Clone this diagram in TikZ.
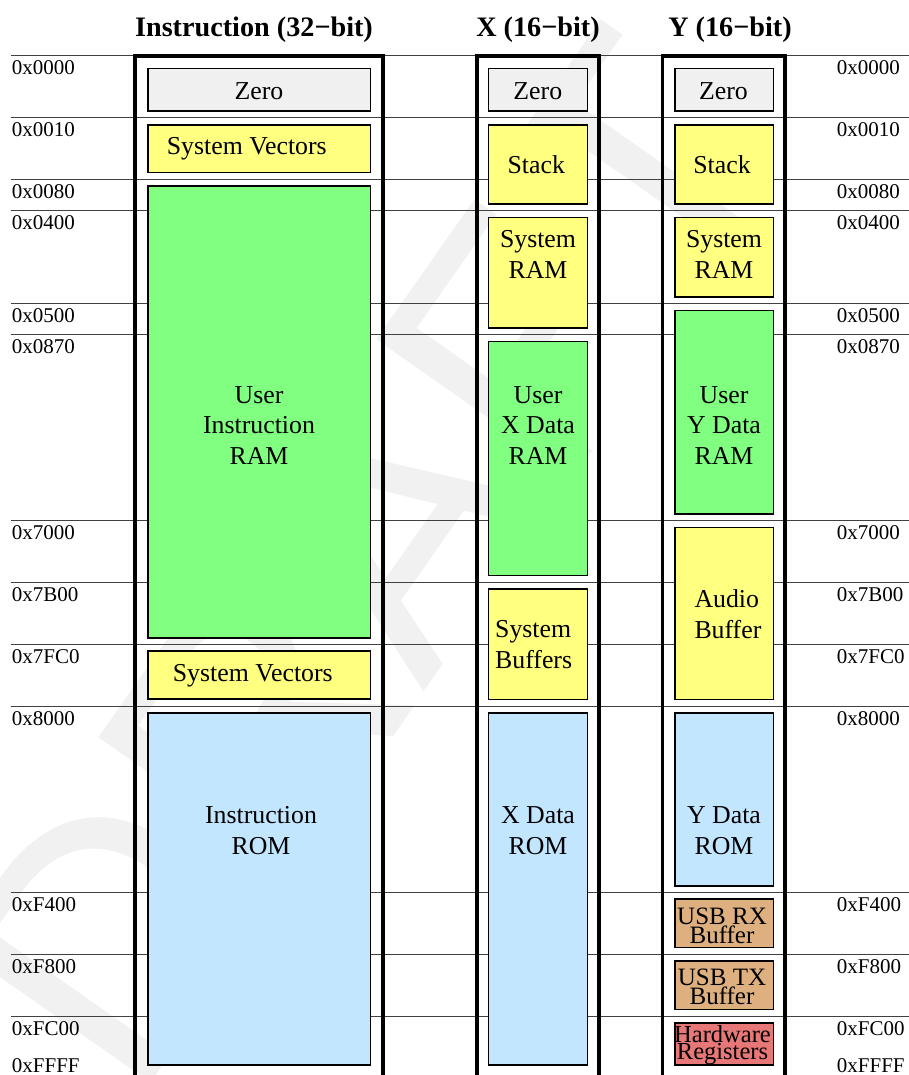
\documentclass[tikz,border=0pt]{standalone}
\usepackage{fontspec}
\setmainfont{Liberation Serif}
\newfontfamily\wmfont{Liberation Sans}
\definecolor{zerofill}{RGB}{240,240,240}
\definecolor{sysfill}{RGB}{255,255,128}
\definecolor{userfill}{RGB}{128,255,128}
\definecolor{romfill}{RGB}{195,230,255}
\definecolor{usbfill}{RGB}{222,176,128}
\definecolor{hwfill}{RGB}{232,120,120}
\definecolor{wmgray}{RGB}{241,241,241}
\tikzset{
  frame/.style={draw=black, line width=3.8pt},
  sepline/.style={draw=black!75, line width=0.9pt},
  mem/.style={draw=black, line width=1.7pt, inner sep=0pt, outer sep=0pt, anchor=north west},
  addr/.style={font=\fontsize{21}{21}\selectfont, anchor=base west, inner sep=0pt},
  head/.style={font=\bfseries\fontsize{28.2}{30}\selectfont, anchor=base, inner sep=0pt},
  lbl/.style={font=\fontsize{25.8}{30.5}\selectfont, align=center, inner sep=0pt},
  tiny/.style={font=\fontsize{25}{17.4}\selectfont, align=center, inner sep=0pt},
}
\newcommand{\memrect}[6]{\node[mem, fill=#6, minimum width=#4pt-#2pt, minimum height=#5pt-#3pt] (#1) at (#2,#3) {};}
\begin{document}
\begin{tikzpicture}[x=1pt,y=-1pt]
\useasboundingbox (0,0) rectangle (909,1075);
\clip (0,0) rectangle (909,1075);
% watermark
\node[rotate=55, text=wmgray, font=\wmfont\fontsize{350}{350}\selectfont, inner sep=0pt] (wm) at (370,560) {DRAFT};
% separator lines
\foreach \yy in {55.7,117.7,179.3,210.7,303.7,334.7,520.7,582.3,644.3,706.3,892.7,954.7,1016.3}
  \draw[sepline] (11,\yy) -- (909,\yy);
% frames
\coordinate (iTL) at (135,55.7); \coordinate (iTR) at (383,55.7);
\coordinate (xTL) at (477,55.7); \coordinate (xTR) at (599,55.7);
\coordinate (yTL) at (662.5,55.7); \coordinate (yTR) at (785.3,55.7);
\draw[frame] (135,1090) -- (iTL) -- (iTR) -- (383,1090);
\draw[frame] (477,1090) -- (xTL) -- (xTR) -- (599,1090);
\draw[frame] (662.5,1090) -- (yTL) -- (yTR) -- (785.3,1090);
% headers
\node[head] (hI) at (254,36.7) {Instruction (32−bit)};
\node[head] (hX) at (538,36.7) {X (16−bit)};
\node[head] (hY) at (730,36.7) {Y (16−bit)};
% instruction column boxes
\memrect{iZero}{148}{68.5}{370.5}{111}{zerofill}
\memrect{iVec}{148}{124.8}{370.5}{172.5}{sysfill}
\memrect{iRam}{148}{185.8}{370.5}{638}{userfill}
\memrect{iVec2}{148}{651.3}{370.5}{699.3}{sysfill}
\memrect{iRom}{148}{712.8}{370.5}{1065}{romfill}
% X column boxes
\memrect{xZero}{488.5}{68.5}{587.5}{111}{zerofill}
\memrect{xStack}{488.5}{124.8}{587.5}{203.7}{sysfill}
\memrect{xSys}{488.5}{217.5}{587.5}{328}{sysfill}
\memrect{xRam}{488.5}{341.5}{587.5}{575.6}{userfill}
\memrect{xBuf}{488.5}{589.1}{587.5}{699.6}{sysfill}
\memrect{xRom}{488.5}{712.8}{587.5}{1065}{romfill}
% Y column boxes
\memrect{yZero}{674.8}{68.5}{773.5}{111}{zerofill}
\memrect{yStack}{674.8}{124.8}{773.5}{203.7}{sysfill}
\memrect{ySys}{674.8}{217.5}{773.5}{297}{sysfill}
\memrect{yRam}{674.8}{310.5}{773.5}{514}{userfill}
\memrect{yAudio}{674.8}{527.5}{773.5}{699.6}{sysfill}
\memrect{yRom}{674.8}{712.8}{773.5}{885.9}{romfill}
\memrect{yRx}{674.8}{899.1}{773.5}{947.6}{usbfill}
\memrect{yTx}{674.8}{961.1}{773.5}{1009.6}{usbfill}
\memrect{yHw}{674.8}{1023.1}{773.5}{1065.3}{hwfill}
% labels instruction
\node[lbl, anchor=base] (tiZero) at (259,99.3) {Zero};
\node[lbl, anchor=base west] (tiVec) at (166.7,155) {System Vectors};
\node[lbl, anchor=north] (tiRam) at (259,386) {User\\Instruction\\RAM};
\node[lbl, anchor=base west] (tiVec2) at (172.7,681.7) {System Vectors};
\node[lbl, anchor=north] (tiRom) at (261,806.5) {Instruction\\ROM};
% labels X
\node[lbl, anchor=base] (txZero) at (537.8,99.3) {Zero};
\node[lbl, anchor=base] (txStack) at (536.3,173.3) {Stack};
\node[lbl, anchor=north] (txSys) at (538,230.5) {System\\RAM};
\node[lbl, anchor=north] (txRam) at (538,386) {User\\X Data\\RAM};
\node[lbl, anchor=north west, align=left] (txBuf) at (495,620.5) {System\\Buffers};
\node[lbl, anchor=north] (txRom) at (538,806.5) {X Data\\ROM};
% labels Y
\node[lbl, anchor=base] (tyZero) at (723.5,99.3) {Zero};
\node[lbl, anchor=base] (tyStack) at (722,173.3) {Stack};
\node[lbl, anchor=north] (tySys) at (724,230.5) {System\\RAM};
\node[lbl, anchor=north] (tyRam) at (724,386) {User\\Y Data\\RAM};
\node[lbl, anchor=north west, align=left] (tyAudio) at (694.3,589.5) {Audio\\Buffer};
\node[lbl, anchor=north] (tyRom) at (724,806.5) {Y Data\\ROM};
\node[tiny, anchor=north] (tyRx) at (722,907.4) {USB RX\\Buffer};
\node[tiny, anchor=north] (tyTx) at (722,969.1) {USB TX\\Buffer};
\node[tiny, anchor=north, font=\fontsize{24.5}{17.3}\selectfont] (tyHw) at (722.5,1025.3) {Hardware\\Registers};
% address labels
\foreach \yy/\lab in {55.7/0x0000,117.7/0x0010,179.3/0x0080,210.7/0x0400,303.7/0x0500,334.7/0x0870,520.7/0x7000,582.3/0x7B00,644.3/0x7FC0,706.3/0x8000,892.7/0xF400,954.7/0xF800,1016.3/0xFC00}{
  \node[addr] at (11.7,\yy+18.8) {\lab};
  \node[addr] at (836.7,\yy+18.8) {\lab};
}
\node[addr] (aLend) at (11.7,1072.6) {0xFFFF};
\node[addr] (aRend) at (836.7,1072.6) {0xFFFF};
\end{tikzpicture}
\end{document}
